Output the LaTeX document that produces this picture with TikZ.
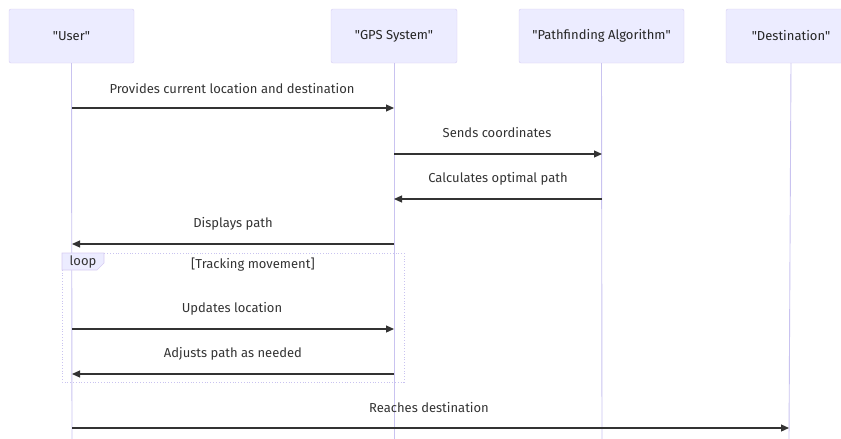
\documentclass[tikz,border=0pt]{standalone}
\usepackage{fontspec}
\setmainfont{Fira Sans}[Ligatures=TeXOff]
\usetikzlibrary{arrows.meta}

\definecolor{actorfill}{HTML}{ECECFF}
\definecolor{actorline}{HTML}{D6CCF2}
\definecolor{lifeline}{HTML}{C9C3F0}
\definecolor{msgline}{HTML}{333333}

\tikzset{
    actor/.style={draw=actorline, fill=actorfill, rounded corners=2pt,
        minimum height=54pt, font=\fontsize{13}{15}\selectfont, text=black!85},
    life/.style={draw=lifeline, line width=0.9pt},
    msg/.style={draw=msgline, line width=1.2pt, -{Triangle[length=8pt,width=7pt]}},
    msgtext/.style={font=\fontsize{13}{15}\selectfont, text=msgline},
}

\begin{document}
\begin{tikzpicture}[x=1pt, y=-1pt]
    \useasboundingbox (0, 0) rectangle (841, 439);

    % actors
    \node[actor, minimum width=125pt] (user) at (71.5, 36) {"User"};
    \node[actor, minimum width=126pt] (gps) at (394, 36) {"GPS System"};
    \node[actor, minimum width=165pt] (path) at (601.5, 36) {"Pathfinding Algorithm"};
    \node[actor, minimum width=130pt] (dest) at (791, 36) {"Destination"};

    % lifelines
    \coordinate (userend) at (72, 439);
    \coordinate (gpsend) at (394, 439);
    \coordinate (pathend) at (602, 439);
    \coordinate (destend) at (789, 439);
    \draw[life] (user.south) -- (userend);
    \draw[life] (gps.south) -- (gpsend);
    \draw[life] (path.south) -- (pathend);
    \draw[life] (dest.south) -- (destend);

    % loop frame
    \draw[lifeline, line width=0.8pt, dotted] (62, 253) rectangle (404, 382);
    \draw[actorline, fill=actorfill, line width=0.6pt]
        (62, 253) -- (104, 253) -- (104, 263) -- (97, 270) -- (62, 270) -- cycle;
    \node[msgtext] (looplabel) at (83, 262) {loop};
    \node[msgtext] (loopcond) at (253, 265) {[Tracking movement]};

    % message end points
    \coordinate (m1a) at (72, 108);   \coordinate (m1b) at (394, 108);
    \coordinate (m2a) at (394, 154);  \coordinate (m2b) at (602, 154);
    \coordinate (m3a) at (602, 199);  \coordinate (m3b) at (394, 199);
    \coordinate (m4a) at (394, 244);  \coordinate (m4b) at (72, 244);
    \coordinate (m5a) at (72, 329);   \coordinate (m5b) at (394, 329);
    \coordinate (m6a) at (394, 374);  \coordinate (m6b) at (72, 374);
    \coordinate (m7a) at (72, 428);   \coordinate (m7b) at (789, 428);

    % messages
    \draw[msg] (m1a) -- (m1b);
    \node[msgtext] (t1) at (232, 89) {Provides current location and destination};
    \draw[msg] (m2a) -- (m2b);
    \node[msgtext] (t2) at (497, 133) {Sends coordinates};
    \draw[msg] (m3a) -- (m3b);
    \node[msgtext] (t3) at (498, 179) {Calculates optimal path};
    \draw[msg] (m4a) -- (m4b);
    \node[msgtext] (t4) at (233, 224) {Displays path};
    \draw[msg] (m5a) -- (m5b);
    \node[msgtext] (t5) at (232, 309) {Updates location};
    \draw[msg] (m6a) -- (m6b);
    \node[msgtext] (t6) at (233, 354) {Adjusts path as needed};
    \draw[msg] (m7a) -- (m7b);
    \node[msgtext] (t7) at (429, 408) {Reaches destination};
\end{tikzpicture}
\end{document}
